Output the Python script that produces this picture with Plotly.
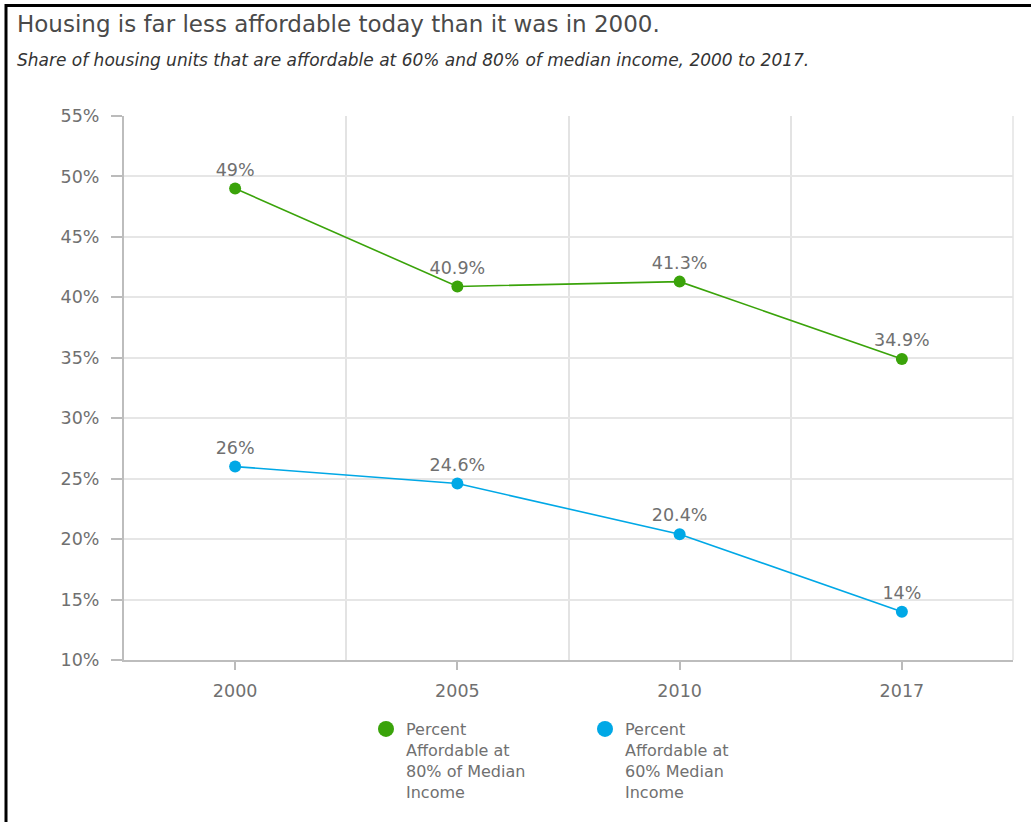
import plotly.graph_objects as go

years = ["2000", "2005", "2010", "2017"]
pct_80 = [49, 40.9, 41.3, 34.9]
pct_60 = [26, 24.6, 20.4, 14]
name_80 = "Percent<br>Affordable at<br>80% of Median<br>Income"
name_60 = "Percent<br>Affordable at<br>60% Median<br>Income"
y_ticks = [10, 15, 20, 25, 30, 35, 40, 45, 50, 55]
y_tick_text = [f"{v}%" for v in y_ticks]

GREEN = "#3aa30a"
BLUE = "#00a8e6"
FONT = "DejaVu Sans, sans-serif"
GRAY = "#707070"

W, H = 1031, 822
L, R, T, B = 124, 18, 116, 162
pw, ph = W - L - R, H - T - B

xs = list(range(len(years)))

fig = go.Figure()
for vals, name, color in [(pct_80, name_80, GREEN), (pct_60, name_60, BLUE)]:
    fig.add_trace(go.Scatter(
        x=xs, y=vals, name=name, mode="lines+markers+text",
        line=dict(color=color, width=1.6),
        marker=dict(color=color, size=12),
        text=[f"{v}%" for v in vals], texttemplate="%{text}",
        textposition="top center",
        textfont=dict(family=FONT, size=17.5, color=GRAY),
        cliponaxis=False, showlegend=False,
    ))
    # legend entry (marker only)
    fig.add_trace(go.Scatter(
        x=[None], y=[None], name=name, mode="markers",
        marker=dict(color=color, size=24), showlegend=True,
    ))

fig.update_layout(
    width=W, height=H,
    margin=dict(l=L, r=R, t=T, b=B),
    paper_bgcolor="white", plot_bgcolor="white",
    font=dict(family=FONT, color=GRAY, size=16),
    showlegend=True,
    legend=dict(
        orientation="h", x=(366 - L) / pw, xanchor="left",
        y=-(712 - (H - B)) / ph,
        yanchor="top", valign="top",
        entrywidth=174, entrywidthmode="pixels",
        font=dict(family=FONT, size=16, color=GRAY),
        itemsizing="trace", tracegroupgap=0,
    ),
    xaxis=dict(
        range=[-0.5, len(years) - 0.5],
        tickmode="array", tickvals=xs, ticktext=years,
        ticks="outside", ticklen=8, tickcolor="#bbbbbb", tickwidth=1.5,
        ticklabelstandoff=6,
        showgrid=False, zeroline=False,
        showline=True, linecolor="#bdbdbd", linewidth=2,
        minor=dict(tickmode="linear", tick0=0.5, dtick=1, showgrid=True,
                   gridcolor="#e3e3e3", gridwidth=1.5, ticks=""),
        tickfont=dict(family=FONT, size=17.5, color=GRAY),
        fixedrange=True,
    ),
    yaxis=dict(
        range=[10, 55], tickmode="array", tickvals=y_ticks, ticktext=y_tick_text,
        ticks="outside", ticklen=11, tickcolor="#bbbbbb", tickwidth=1.5,
        ticklabelstandoff=8,
        showgrid=True, gridcolor="#e6e6e6", gridwidth=1.5,
        zeroline=False, showline=True, linecolor="#bdbdbd", linewidth=2,
        tickfont=dict(family=FONT, size=17.5, color=GRAY),
        fixedrange=True,
    ),
    annotations=[
        dict(text="Housing is far less affordable today than it was in 2000.",
             xref="paper", yref="paper", x=(15 - L) / pw, y=1 + (T - 9) / ph,
             xanchor="left", yanchor="top", showarrow=False,
             font=dict(family=FONT, size=23, color="#4a4a4a")),
        dict(text="<i>Share of housing units that are affordable at 60% and 80% of median income, 2000 to 2017.</i>",
             xref="paper", yref="paper", x=(15 - L) / pw, y=1 + (T - 48) / ph,
             xanchor="left", yanchor="top", showarrow=False,
             font=dict(family=FONT, size=17, color="#333333")),
    ],
    shapes=[
        dict(type="line", xref="paper", yref="paper",
             x0=(6 - L) / pw, x1=(6 - L) / pw, y0=1 + (T - 4) / ph, y1=1 + (T - H) / ph,
             line=dict(color="black", width=3)),
        dict(type="line", xref="paper", yref="paper",
             x0=(6 - L) / pw, x1=(W - L) / pw, y0=1 + (T - 5.5) / ph, y1=1 + (T - 5.5) / ph,
             line=dict(color="black", width=3)),
        dict(type="line", xref="paper", yref="paper",
             x0=1, x1=1, y0=0, y1=1,
             line=dict(color="#e3e3e3", width=1.5)),
    ],
)

fig.write_html("out.html", config={"displayModeBar": False},
               post_script="document.body.style.margin='0px';")
